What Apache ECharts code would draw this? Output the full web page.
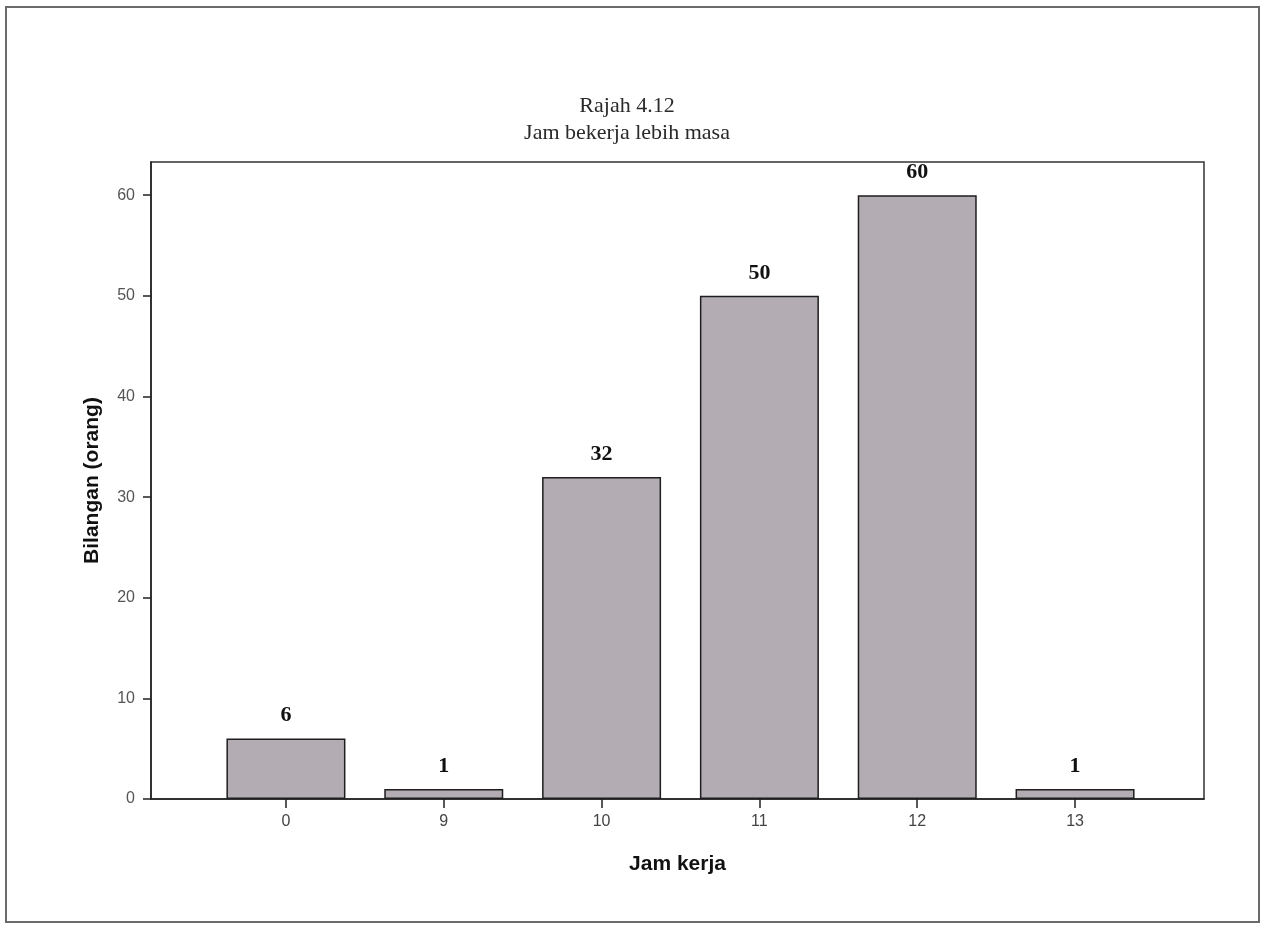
<!DOCTYPE html>
<html>
<head>
<meta charset="utf-8">
<script src="https://cdn.jsdelivr.net/npm/echarts@6/dist/echarts.min.js"></script>
<style>
  html, body { margin: 0; padding: 0; background: #fff; }
  #wrap { position: relative; width: 1266px; height: 929px; }
  #frame {
    position: absolute; left: 5px; top: 6px; width: 1251px; height: 913px;
    border: 2px solid #6a6a6a;
  }
  #rajah-chart { position: absolute; left: 0; top: 0; width: 1266px; height: 929px; }
</style>
</head>
<body>
<div id="wrap">
  <div id="frame"></div>
  <div id="rajah-chart"></div>
</div>
<script>
  // data
  const categories = ['0', '9', '10', '11', '12', '13'];
  const counts = [6, 1, 32, 50, 60, 1];
  const yTicks = [0, 10, 20, 30, 40, 50, 60];

  // bars sit on a value axis so the outer padding of the plot matches the SPSS frame
  const positions = categories.map((c, i) => i);
  const barData = positions.map((p, i) => [p, counts[i]]);

  const myChart = echarts.init(document.getElementById('rajah-chart'));
  const option = {
    animation: false,
    title: {
      text: 'Rajah 4.12\nJam bekerja lebih masa',
      left: 622,
      top: 88,
      textAlign: 'center',
      textStyle: {
        fontFamily: 'Liberation Serif',
        fontWeight: 'normal',
        fontSize: 22,
        lineHeight: 27,
        color: '#2a2a2a'
      }
    },
    grid: {
      left: 151,
      right: 62,
      top: 162,
      bottom: 130,
      show: true,
      borderColor: '#333',
      borderWidth: 1.5
    },
    xAxis: {
      type: 'value',
      min: -0.855,
      max: 5.817,
      name: 'Jam kerja',
      nameLocation: 'middle',
      nameGap: 55,
      nameTextStyle: {
        fontFamily: 'Liberation Sans',
        fontWeight: 'bold',
        fontSize: 21,
        color: '#111'
      },
      splitLine: { show: false },
      axisLine: { show: true, onZero: false, lineStyle: { color: '#222', width: 1.5 } },
      axisTick: {
        show: true,
        customValues: positions,
        length: 9,
        lineStyle: { color: '#222', width: 1.5 }
      },
      axisLabel: {
        customValues: positions,
        margin: 15,
        fontFamily: 'Liberation Sans',
        fontSize: 16,
        color: '#444',
        formatter: (v) => categories[Math.round(v)]
      }
    },
    yAxis: {
      type: 'value',
      min: 0,
      max: 63.3,
      name: 'Bilangan (orang)',
      nameLocation: 'middle',
      nameRotate: 90,
      nameGap: 48,
      nameTextStyle: {
        fontFamily: 'Liberation Sans',
        fontWeight: 'bold',
        fontSize: 21,
        color: '#111'
      },
      splitLine: { show: false },
      axisLine: { show: true, onZero: false, lineStyle: { color: '#222', width: 1.5 } },
      axisTick: {
        show: true,
        customValues: yTicks,
        length: 8,
        lineStyle: { color: '#222', width: 1.5 }
      },
      axisLabel: {
        customValues: yTicks,
        margin: 16,
        fontFamily: 'Liberation Sans',
        fontSize: 16,
        color: '#555'
      }
    },
    series: [
      {
        name: 'Bilangan',
        type: 'bar',
        barWidth: 119,
        data: barData,
        itemStyle: {
          color: '#b3adb3',
          borderColor: '#1e1e1e',
          borderWidth: 1.5
        },
        label: {
          show: true,
          position: 'top',
          distance: 12,
          fontFamily: 'Liberation Serif',
          fontWeight: 'bold',
          fontSize: 22,
          color: '#111',
          formatter: (p) => p.value[1]
        }
      }
    ]
  };
  option && myChart.setOption(option);
</script>
</body>
</html>
